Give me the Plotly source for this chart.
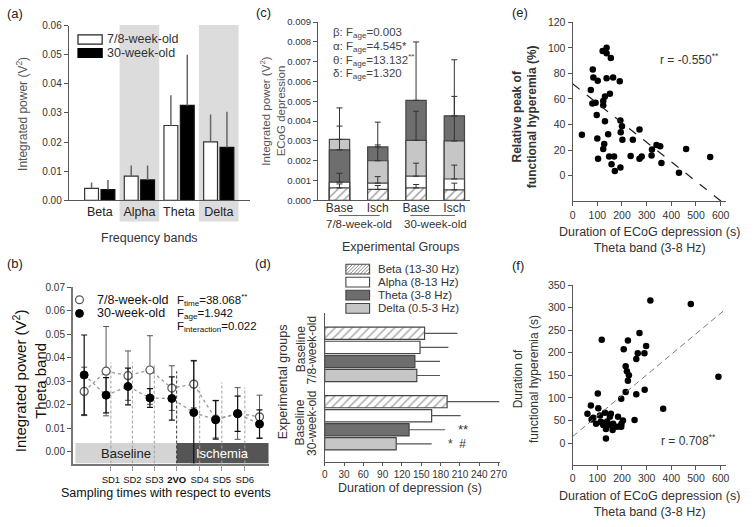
import plotly.graph_objects as go

W, H = 754, 527
def PX(x): return x / W
def PY(y): return 1 - y / H

FONT = "Liberation Sans, Arial, sans-serif"
TXT = "#333333"

# ---------------- (a) integrated power per frequency band ----------------
freq_bands = ["Beta", "Alpha", "Theta", "Delta"]
young_power = [0.0041, 0.0083, 0.0257, 0.0201]
young_power_err = [0.0020, 0.0037, 0.0104, 0.0094]
old_power = [0.0037, 0.0070, 0.0326, 0.0182]
old_power_err = [0.0033, 0.0050, 0.0174, 0.0122]
age_labels = ["7/8-week-old", "30-week-old"]

# ---------------- (b) theta power over sampling times ----------------
sample_index = [1, 2, 3, 4, 5, 6, 7, 8, 9]
young_theta = [0.0257, 0.0343, 0.0324, 0.0348, 0.0271, 0.0288, 0.0139, 0.0163, 0.0149]
young_theta_err = [0.0103, 0.0190, 0.0105, 0.0146, 0.0095, 0.0101, 0.0080, 0.0110, 0.0092]
old_theta = [0.0327, 0.0241, 0.0278, 0.0229, 0.0227, 0.0167, 0.0136, 0.0162, 0.0118]
old_theta_err = [0.0170, 0.0075, 0.0078, 0.0040, 0.0092, 0.0220, 0.0082, 0.0075, 0.0060]
event_labels = ["SD1", "SD2", "SD3", "<b>2VO</b>", "SD4", "SD5", "SD6"]
event_pos = [2.22, 3.20, 4.20, 5.22, 6.27, 7.28, 8.33]
event_top = [0.0380, 0.0380, 0.0369, 0.0343, 0.0274, 0.0296, 0.0274]
stats_b = ["F<sub>time</sub>=38.068<sup>**</sup>", "F<sub>age</sub>=1.942",
           "F<sub>interaction</sub>=0.022"]

# ---------------- (c) integrated power during ECoG depression ----------------
groups_c = ["Base", "Isch", "Base", "Isch"]
beta_c = [0.00063, 0.00055, 0.00063, 0.00053]
beta_c_err = [0.00020, 0.00020, 0.00017, 0.00034]
alpha_c = [0.00092, 0.00087, 0.00122, 0.00108]
alpha_c_err = [0.00045, 0.00033, 0.00066, 0.00070]
theta_c = [0.00255, 0.00270, 0.00505, 0.00427]
theta_c_err = [0.00120, 0.00125, 0.00295, 0.00283]
delta_c = [0.00308, 0.00200, 0.00303, 0.00300]
delta_c_err = [0.00159, 0.00080, 0.00147, 0.00225]
stats_c = ["β: F<sub>age</sub>=0.003", "α: F<sub>age</sub>=4.545*",
           "θ: F<sub>age</sub>=13.132<sup>**</sup>", "δ: F<sub>age</sub>=1.320"]

# ---------------- (d) duration of depression ----------------
d_band_names = ["Beta (13-30 Hz)", "Alpha (8-13 Hz)", "Theta (3-8 Hz)", "Delta (0.5-3 Hz)"]
young_dur = [155, 148, 140, 143]
young_dur_err = [51, 44, 39, 36]
old_dur = [190, 166, 131, 111]
old_dur_err = [81, 45, 56, 55]

# ---------------- (e) relative peak vs duration ----------------
e_dur = [37.6, 81.6, 84, 101.6, 137.6, 164, 191, 73.6, 131, 151, 124, 124, 80, 93, 97.6,
         131, 193.6, 200, 195, 271, 100, 144, 201.6, 244, 128, 124, 103, 148, 168, 157.6,
         171, 193.6, 235, 271, 280, 321.6, 320, 340, 355, 360, 431, 460, 557.6, 121.6,
         137.6, 137.6, 154.8]
e_peak = [32, 83, 76.8, 74.2, 76.3, 76.8, 73.8, 67.1, 62, 64, 58.5, 55, 56.4, 57, 47.5,
          42.5, 43.2, 38.7, 34, 36, 29, 32.3, 28, 28, 24.7, 20.8, 13.2, 15, 15, 8.9,
          3.6, 6.3, 15.3, 13.2, 15, 20.4, 15.8, 23.9, 22.9, 9.9, 2.3, 20.8, 14.5, 97.6,
          100.2, 95.9, 92.1]
e_fit_intercept, e_fit_slope = 71.9, -0.1527

# ---------------- (f) duration of hyperemia vs duration ----------------
f_dur = [315, 479, 118, 224, 271, 207, 264, 298, 291, 258, 215, 220, 228, 224, 591, 102,
         215, 258, 292, 197, 367, 251, 135,
         60, 74, 77, 104, 84, 95, 111, 114, 124, 131, 140, 148, 151, 155, 164, 135, 162,
         180, 184, 198, 204, 194, 120, 197]
f_hyp = [316, 308, 229, 227, 244, 208, 199, 215, 199, 186, 170, 159, 150, 138, 147, 110,
         113, 108, 118, 98, 76, 51, 10,
         65, 83, 52, 77, 56, 43, 61, 47, 40, 67, 48, 40, 58, 65, 43, 31, 29,
         36, 58, 43, 50, 37, 45, 36]
f_fit_intercept, f_fit_slope = 14.5, 0.455

fig = go.Figure()

# ===== (a) =====
fig.add_trace(go.Bar(
    x=list(range(len(freq_bands))), y=young_power, width=0.349, offset=-0.381,
    marker=dict(color="white", line=dict(color="#333", width=1.2)),
    error_y=dict(type="data", array=young_power_err, arrayminus=[0] * 4, symmetric=False,
                 color="#666", thickness=1.5, width=0),
    xaxis="x", yaxis="y", showlegend=False))
fig.add_trace(go.Bar(
    x=list(range(len(freq_bands))), y=old_power, width=0.349, offset=0.032,
    marker=dict(color="black", line=dict(color="#111", width=1.2)),
    error_y=dict(type="data", array=old_power_err, arrayminus=[0] * 4, symmetric=False,
                 color="#666", thickness=1.5, width=0),
    xaxis="x", yaxis="y", showlegend=False))

# ===== (b) =====
fig.add_trace(go.Scatter(x=sample_index, y=young_theta, mode="lines",
                         line=dict(color="#999", dash="dot", width=1.3),
                         xaxis="x2", yaxis="y2", showlegend=False))
fig.add_trace(go.Scatter(x=sample_index, y=old_theta, mode="lines",
                         line=dict(color="#999", dash="dot", width=1.3),
                         xaxis="x2", yaxis="y2", showlegend=False))
fig.add_trace(go.Scatter(
    x=sample_index, y=young_theta, mode="markers",
    marker=dict(symbol="circle", size=8, color="white", line=dict(color="#555", width=1.2)),
    error_y=dict(type="data", array=young_theta_err, color="#555", thickness=1, width=3),
    xaxis="x2", yaxis="y2", showlegend=False))
fig.add_trace(go.Scatter(
    x=sample_index, y=old_theta, mode="markers",
    marker=dict(symbol="circle", size=8, color="black", line=dict(color="black", width=1)),
    error_y=dict(type="data", array=old_theta_err, color="#111", thickness=1.2, width=3),
    xaxis="x2", yaxis="y2", showlegend=False))

# ===== (c) overlaid bars, tallest drawn first =====
c_vals = {"Beta": beta_c, "Alpha": alpha_c, "Theta": theta_c, "Delta": delta_c}
c_errs = {"Beta": beta_c_err, "Alpha": alpha_c_err, "Theta": theta_c_err, "Delta": delta_c_err}
band_fill = {"Beta": "white", "Alpha": "white", "Theta": "#6e6e6e", "Delta": "#c6c6c6"}
band_pat = {"Beta": "/", "Alpha": "", "Theta": "", "Delta": ""}
for layer in range(4):
    ys, es, cols, pats = [], [], [], []
    for g in range(len(groups_c)):
        order = sorted(c_vals, key=lambda b: -c_vals[b][g])
        b = order[layer]
        ys.append(c_vals[b][g]); es.append(c_errs[b][g])
        cols.append(band_fill[b]); pats.append(band_pat[b])
    fig.add_trace(go.Bar(
        x=list(range(len(groups_c))), y=ys, width=0.53, offset=-0.265,
        marker=dict(color=cols, line=dict(color="#444", width=1.2),
                    pattern=dict(shape=pats, fgcolor="#555", bgcolor="white", size=6, solidity=0.25)),
        error_y=dict(type="data", array=es, arrayminus=[0] * 4, symmetric=False,
                     color="#333", thickness=1, width=3),
        xaxis="x3", yaxis="y3", showlegend=False))

# ===== (d) horizontal bars =====
GROUP_SHIFT = 4.86
for i, name in enumerate(d_band_names):
    b = freq_bands[i]
    fig.add_trace(go.Bar(
        y=[i, i + GROUP_SHIFT], x=[young_dur[i], old_dur[i]], orientation="h",
        width=0.87, offset=-0.435,
        marker=dict(color=band_fill[b], line=dict(color="#444", width=1.2),
                    pattern=dict(shape=band_pat[b], fgcolor="#555", bgcolor="white", size=6, solidity=0.25)),
        error_x=dict(type="data", array=[young_dur_err[i], old_dur_err[i]], arrayminus=[0, 0],
                     symmetric=False, color="#555", thickness=1.2, width=0),
        xaxis="x4", yaxis="y4", showlegend=False, name=name))

# ===== (e) =====
fig.add_trace(go.Scatter(x=e_dur, y=e_peak, mode="markers",
                         marker=dict(color="black", size=6.5),
                         xaxis="x5", yaxis="y5", showlegend=False))
fig.add_trace(go.Scatter(x=[0, 620], y=[e_fit_intercept, e_fit_intercept + e_fit_slope * 620],
                         mode="lines", line=dict(color="#222", dash="dash", width=1.2),
                         xaxis="x5", yaxis="y5", showlegend=False))

# ===== (f) =====
fig.add_trace(go.Scatter(x=f_dur, y=f_hyp, mode="markers",
                         marker=dict(color="black", size=6.5),
                         xaxis="x6", yaxis="y6", showlegend=False))
fig.add_trace(go.Scatter(x=[0, 620], y=[f_fit_intercept, f_fit_intercept + f_fit_slope * 620],
                         mode="lines", line=dict(color="#777", dash="6px,4px", width=1),
                         xaxis="x6", yaxis="y6", showlegend=False))


def ax(**kw):
    base = dict(showgrid=False, zeroline=False, showline=True, linecolor="#555", linewidth=1.2,
                ticks="outside", ticklen=4, tickcolor="#555", tickwidth=1,
                tickfont=dict(size=10, color=TXT, family=FONT))
    base.update(kw)
    return base


shapes = []
ann = []

def text(x, y, s, size=12, color=TXT, xa="center", angle=0, **kw):
    ann.append(dict(x=PX(x), y=PY(y), xref="paper", yref="paper", text=s, showarrow=False,
                    xanchor=xa, yanchor="middle", textangle=angle,
                    font=dict(size=size, color=color, family=FONT), **kw))

# ---- (a) decorations
for c0 in (0.5, 2.5):
    shapes.append(dict(type="rect", xref="x", yref="paper", x0=c0, x1=c0 + 1,
                       y0=PY(220), y1=PY(19.5), fillcolor="#dcdcdc", line=dict(width=0),
                       layer="below"))
shapes.append(dict(type="rect", xref="paper", yref="paper", x0=PX(76), x1=PX(100.5),
                   y0=PY(39), y1=PY(29.5), fillcolor="white", line=dict(color="#222", width=1.2)))
shapes.append(dict(type="rect", xref="paper", yref="paper", x0=PX(76), x1=PX(100.5),
                   y0=PY(52.5), y1=PY(43.5), fillcolor="black", line=dict(color="black", width=1.2)))
text(103, 34, age_labels[0], 12.5, xa="left")
text(103, 48, age_labels[1], 12.5, xa="left")
text(18.5, 110, "Integrated power (V<sup>2</sup>)", 12, "#555", angle=-90)
text(148, 237, "Frequency bands", 12.5)
text(12, 8, "(a)", 13, "#222")

# ---- (b) decorations
shapes.append(dict(type="rect", xref="x2", yref="y2", x0=0.6, x1=event_pos[3],
                   y0=-0.005, y1=0.0037, fillcolor="#d4d4d4", line=dict(width=0), layer="below"))
shapes.append(dict(type="rect", xref="x2", yref="y2", x0=event_pos[3], x1=9.42,
                   y0=-0.005, y1=0.0037, fillcolor="#555555", line=dict(width=0), layer="below"))
for i, (p, t) in enumerate(zip(event_pos, event_top)):
    shapes.append(dict(type="line", xref="x2", yref="y2", x0=p, x1=p, y0=-0.005, y1=t,
                       line=dict(color="#333" if i == 3 else "#a0a0a0", width=1, dash="3px,2px"),
                       layer="below"))
ann.append(dict(x=(0.6 + event_pos[3]) / 2, y=-0.0007, xref="x2", yref="y2", text="Baseline",
                showarrow=False, font=dict(size=13, color="#222", family=FONT)))
ann.append(dict(x=(event_pos[3] + 9.42) / 2, y=-0.0007, xref="x2", yref="y2", text="Ischemia",
                showarrow=False, font=dict(size=13, color="white", family=FONT)))
shapes.append(dict(type="circle", xref="paper", yref="paper", x0=PX(73.5), x1=PX(81.5),
                   y0=PY(304), y1=PY(296), fillcolor="white", line=dict(color="#555", width=1.2)))
shapes.append(dict(type="circle", xref="paper", yref="paper", x0=PX(73.5), x1=PX(81.5),
                   y0=PY(318), y1=PY(310), fillcolor="black", line=dict(color="black", width=1)))
text(93, 300.5, age_labels[0], 12.5, "#111", xa="left")
text(93, 314, age_labels[1], 12.5, "#111", xa="left")
for k, s in enumerate(stats_b):
    text(174, 300.5 + 13.6 * k, s, 11.5, "#111", xa="left")
text(26.5, 383, "Integrated power (V<sup>2</sup>)<br>Theta band", 15, "#111", angle=-90)
text(165, 497, "Sampling times with respect to events", 12.5, "#111")
text(12, 263, "(b)", 13, "#222")

# ---- (c) decorations
for k, s in enumerate(stats_c):
    text(332.5, 27.5 + 14 * k, s, 11.5, "#444", xa="left")
shapes.append(dict(type="line", xref="x3", yref="paper", x0=-0.02, x1=1.05,
                   y0=PY(214), y1=PY(214), line=dict(color="#666", width=1)))
shapes.append(dict(type="line", xref="x3", yref="paper", x0=1.85, x1=3.02,
                   y0=PY(214), y1=PY(214), line=dict(color="#666", width=1)))
ann.append(dict(x=0.5, y=PY(222.5), xref="x3", yref="paper", text=age_labels[0], showarrow=False,
                yanchor="middle", font=dict(size=11.5, color=TXT, family=FONT)))
ann.append(dict(x=2.5, y=PY(222.5), xref="x3", yref="paper", text=age_labels[1], showarrow=False,
                yanchor="middle", font=dict(size=11.5, color=TXT, family=FONT)))
text(273.5, 107, "Integrated power (V<sup>2</sup>)<br>ECoG depression", 11.5, "#555", angle=-90)
text(402.5, 246.5, "Experimental Groups", 12.5)
text(264, 7, "(c)", 13, "#222")

# ---- (d) decorations: legend
lx0, lx1 = 347.5, 371.5
rows = [268.7, 282.0, 295.3, 308.8]
for i, name in enumerate(d_band_names):
    b = freq_bands[i]
    yc = rows[i]
    y0, y1 = yc + 5, yc - 5
    shapes.append(dict(type="rect", xref="paper", yref="paper", x0=PX(lx0), x1=PX(lx1),
                       y0=PY(y0), y1=PY(y1), fillcolor=band_fill[b],
                       line=dict(color="#444", width=1.1)))
    if band_pat[b]:
        w, h = lx1 - lx0, y0 - y1
        c = -h
        while c < w:
            xs, ys_ = c, 0.0
            xe, ye = c + h, h
            if xs < 0:
                ys_ = -xs; xs = 0.0
            if xe > w:
                ye = h - (xe - w); xe = w
            shapes.append(dict(type="line", xref="paper", yref="paper",
                               x0=PX(lx0 + xs), x1=PX(lx0 + xe), y0=PY(y0 - ys_), y1=PY(y0 - ye),
                               line=dict(color="#666", width=0.8)))
            c += 3.5
    text(378.5, yc, name, 11.5, TXT, xa="left")
ann.append(dict(x=214, y=2 + GROUP_SHIFT, xref="x4", yref="y4", text="**", showarrow=False,
                font=dict(size=13, color=TXT, family=FONT)))
ann.append(dict(x=205, y=3 + GROUP_SHIFT, xref="x4", yref="y4", text="*  #", showarrow=False,
                font=dict(size=12, color=TXT, family=FONT)))
text(284, 384, "Experimental groups", 12.5, TXT, angle=-90)
text(301.5, 351, "Baseline", 12, TXT, angle=-90)
text(313, 351, "7/8-week-old", 12, TXT, angle=-90)
text(301.5, 426, "Baseline", 12, TXT, angle=-90)
text(313, 426, "30-week-old", 12, TXT, angle=-90)
text(412.5, 492, "Duration of depression (s)", 12.5)
text(264, 263, "(d)", 13, "#222")

# ---- (e)
text(696, 54, "r = -0.550<sup>**</sup>", 12, TXT)
text(528.5, 113, "<b>Relative peak of<br>functional hyperemia (%)</b>", 12, "#333", angle=-90)
text(655, 239, "Duration of ECoG depression (s)<br>Theta band (3-8 Hz)", 12.5)
text(524, 7, "(e)", 13, "#222")

# ---- (f)
text(695, 443, "r = 0.708<sup>**</sup>", 12, TXT)
text(530, 381, "Duration of<br>functional hyperemia (s)", 12, "#333", angle=-90)
text(655, 509, "Duration of ECoG depression (s)<br>Theta band (3-8 Hz)", 12.5)
text(522, 265, "(f)", 13, "#222")

fig.update_layout(
    width=W, height=H, margin=dict(l=0, r=0, t=0, b=0),
    paper_bgcolor="white", plot_bgcolor="rgba(0,0,0,0)",
    font=dict(family=FONT, color=TXT), showlegend=False, barmode="overlay",
    xaxis=ax(domain=[PX(66.7), PX(250)], anchor="y", range=[-0.78, 3.78],
             tickvals=[0, 1, 2, 3], ticktext=freq_bands, ticks="",
             tickfont=dict(size=12.5, color="#222", family=FONT)),
    yaxis=ax(domain=[PY(198.5), PY(20)], anchor="x", range=[0, 0.06], dtick=0.01,
             tickformat=".2f"),
    xaxis2=ax(domain=[PX(70.7), PX(269.3)], anchor="y2", range=[0.48, 9.42],
              tickvals=event_pos, ticktext=event_labels, ticklen=6, tickcolor="#999",
              linecolor="#777", linewidth=1.5, tickangle=0,
              tickfont=dict(size=9.5, color="#111", family=FONT)),
    yaxis2=ax(domain=[PY(467.3), PY(287.3)], anchor="x2", range=[-0.005, 0.07],
              tickvals=[0, 0.01, 0.02, 0.03, 0.04, 0.05, 0.06, 0.07], tickformat=".2f",
              linecolor="#777", linewidth=1.5),
    xaxis3=ax(domain=[PX(319.3), PX(473.3)], anchor="y3", range=[-0.56, 3.41],
              tickvals=[0, 1, 2, 3], ticktext=groups_c, ticks="", tickangle=0,
              ticklabelstandoff=-4,
              tickfont=dict(size=12, color=TXT, family=FONT)),
    yaxis3=ax(domain=[PY(198.5), PY(16.5)], anchor="x3", range=[0, 0.009], dtick=0.001,
              tickformat=".3f", tickfont=dict(size=9.5, color=TXT, family=FONT)),
    xaxis4=ax(domain=[PX(326), PX(326 + 272 * 0.653)], anchor="y4", range=[0, 272],
              tickvals=list(range(0, 271, 30)), ticklen=3, tickangle=0,
              tickfont=dict(size=10, color=TXT, family=FONT)),
    yaxis4=ax(domain=[PY(465.7), PY(313.3)], anchor="x4", range=[9.15, -1.46],
              showticklabels=False, ticks=""),
    xaxis5=ax(domain=[PX(577.3), PX(732.3)], anchor="y5", range=[0, 620],
              tickvals=list(range(0, 601, 100)), tickangle=0,
              tickfont=dict(size=10.5, color=TXT, family=FONT)),
    yaxis5=ax(domain=[PY(199.3), PY(16.7)], anchor="x5", range=[-20, 120],
              tickvals=list(range(0, 121, 20)),
              tickfont=dict(size=10.5, color=TXT, family=FONT)),
    xaxis6=ax(domain=[PX(577.3), PX(732.3)], anchor="y6", range=[0, 620],
              tickvals=list(range(0, 601, 100)), tickangle=0,
              tickfont=dict(size=10.5, color=TXT, family=FONT)),
    yaxis6=ax(domain=[PY(468.5), PY(285)], anchor="x6", range=[-48, 350],
              tickvals=list(range(0, 351, 50)),
              tickfont=dict(size=10.5, color=TXT, family=FONT)),
    shapes=shapes, annotations=ann,
)

fig.write_html("out.html", config={"displayModeBar": False},
               post_script="document.body.style.margin='0px';document.body.style.overflow='hidden';")
